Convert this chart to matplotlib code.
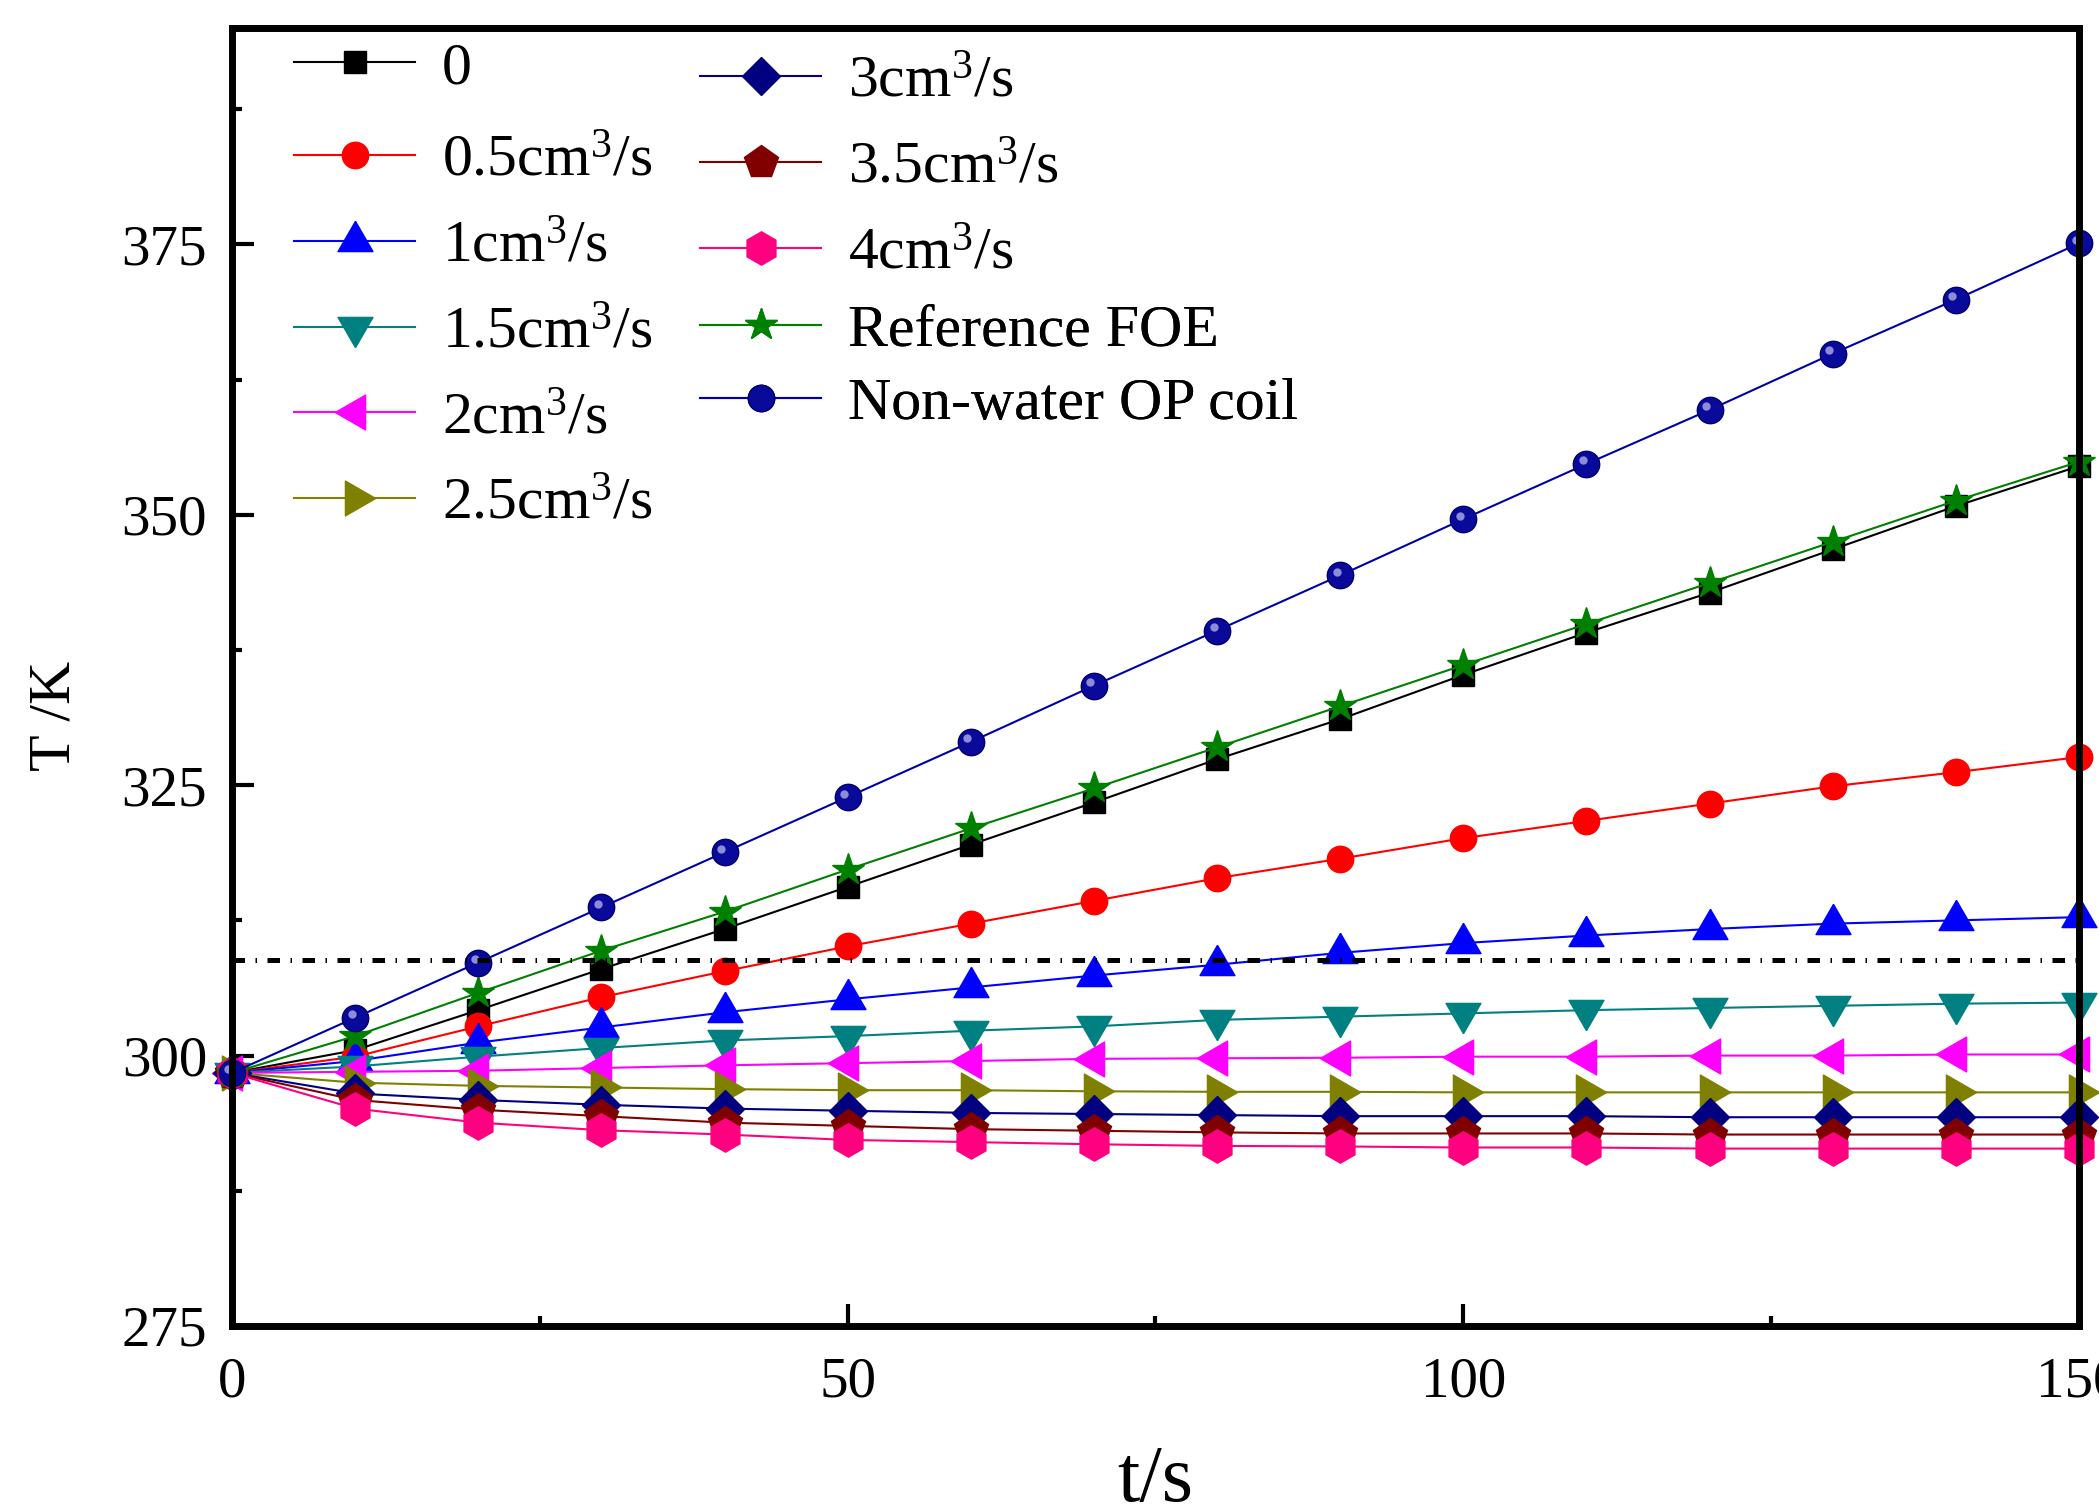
import matplotlib
matplotlib.use("Agg")
import matplotlib.pyplot as plt
import matplotlib.transforms as mtransforms
from matplotlib.ticker import MultipleLocator

plt.rcParams.update({
    "font.family": ["Liberation Serif", "DejaVu Serif"],
    "mathtext.default": "regular",
    "mathtext.fontset": "custom",
    "mathtext.rm": "Liberation Serif",
})

# time axis (s)
t = [0, 10, 20, 30, 40, 50, 60, 70, 80, 90, 100, 110, 120, 130, 140, 150]

# temperature (K) for each water flow rate
T_0 = [298.4, 300.5, 304.2, 308.0, 311.7, 315.6, 319.5, 323.4, 327.4, 331.1, 335.2, 339.1, 342.8, 346.8, 350.8, 354.5]
T_05 = [298.4, 299.9, 302.7, 305.4, 307.8, 310.1, 312.2, 314.3, 316.4, 318.2, 320.1, 321.7, 323.3, 324.9, 326.2, 327.6]
T_1 = [298.4, 299.5, 301.2, 302.6, 304.0, 305.2, 306.3, 307.4, 308.4, 309.5, 310.4, 311.1, 311.7, 312.2, 312.5, 312.8]
T_15 = [298.4, 299.0, 299.9, 300.7, 301.4, 301.8, 302.3, 302.7, 303.3, 303.6, 303.9, 304.2, 304.4, 304.6, 304.8, 304.9]
T_2 = [298.4, 298.5, 298.6, 298.85, 299.1, 299.3, 299.5, 299.7, 299.75, 299.8, 299.9, 299.9, 300.0, 300.0, 300.1, 300.1]
T_25 = [298.4, 297.5, 297.2, 297.05, 296.9, 296.8, 296.8, 296.7, 296.65, 296.65, 296.6, 296.6, 296.6, 296.6, 296.6, 296.6]
T_3 = [298.4, 296.5, 295.9, 295.45, 295.1, 294.9, 294.7, 294.6, 294.5, 294.4, 294.4, 294.4, 294.3, 294.3, 294.3, 294.3]
T_35 = [298.4, 295.9, 295.0, 294.4, 293.8, 293.5, 293.2, 293.05, 292.9, 292.8, 292.8, 292.8, 292.7, 292.7, 292.7, 292.7]
T_4 = [298.4, 295.1, 293.8, 293.1, 292.7, 292.2, 292.0, 291.8, 291.65, 291.6, 291.5, 291.5, 291.4, 291.4, 291.4, 291.4]
T_foe = [298.4, 301.8, 305.8, 309.7, 313.3, 317.2, 321.0, 324.7, 328.5, 332.3, 336.1, 339.9, 343.7, 347.5, 351.3, 354.9]
T_nowater = [298.4, 303.5, 308.6, 313.7, 318.8, 323.9, 329.0, 334.2, 339.3, 344.4, 349.6, 354.7, 359.7, 364.9, 369.9, 375.1]

labels = ["0", "0.5cm$^3$/s", "1cm$^3$/s", "1.5cm$^3$/s", "2cm$^3$/s", "2.5cm$^3$/s",
          "3cm$^3$/s", "3.5cm$^3$/s", "4cm$^3$/s", "Reference FOE", "Non-water OP coil"]

T_LIMIT = 308.8

# equilateral triangles, like Origin's
TRI_UP = [(0, 1), (-0.866, -0.5), (0.866, -0.5), (0, 1)]
TRI_DOWN = [(x, -y) for x, y in TRI_UP]
TRI_LEFT = [(-y, x) for x, y in TRI_UP]
TRI_RIGHT = [(y, x) for x, y in TRI_UP]

styles = [
    dict(color="#000000", marker="s", ms=16.5),
    dict(color="#FF0000", marker="o", ms=19),
    dict(color="#0000FF", marker=TRI_UP, ms=29),
    dict(color="#008080", marker=TRI_DOWN, ms=29),
    dict(color="#FF00FF", marker=TRI_LEFT, ms=29),
    dict(color="#808000", marker=TRI_RIGHT, ms=29),
    dict(color="#000080", marker="D", ms=19),
    dict(color="#800000", marker="p", ms=25),
    dict(color="#FF0080", marker="h", ms=24),
    dict(color="#008000", marker="*", ms=24),
    dict(color="#0000A8", marker="o", ms=19, mfc="#0A0A9A", mec="#000070"),
]

series = [T_0, T_05, T_1, T_15, T_2, T_25, T_3, T_35, T_4, T_foe, T_nowater]

fig = plt.figure(figsize=(20.99, 15.08), dpi=100)
ax = fig.add_axes([0.1105, 0.1207, 0.8800, 0.8607])

lines = []
for y, lab, st in zip(series, labels, styles):
    st = dict(st)
    color = st.pop("color")
    ln, = ax.plot(t, y, color=color, lw=1.5, label=lab, mfc=st.pop("mfc", color),
                  mec=st.pop("mec", color), mew=1, clip_on=False, **st)
    lines.append(ln)

# glossy highlight on the sphere markers
hl = mtransforms.offset_copy(ax.transData, fig=fig, x=-2.5, y=2.5, units="points")
ax.plot(t, T_nowater, ls="none", marker="o", ms=6, mfc="#8C8CD8", mec="none",
        transform=hl, clip_on=False)

ax.axhline(T_LIMIT, color="black", lw=3.6, ls=(0, (2.5, 2.1, 0.3, 2.1)), zorder=5)

ax.set_xlim(0, 150)
ax.set_ylim(275, 395)
ax.xaxis.set_major_locator(MultipleLocator(50))
ax.xaxis.set_minor_locator(MultipleLocator(25))
ax.yaxis.set_major_locator(MultipleLocator(25))
ax.yaxis.set_minor_locator(MultipleLocator(12.5))
ax.tick_params(which="both", direction="in", top=False, right=False, width=3, labelsize=41)
ax.tick_params(axis="y", pad=18)
ax.tick_params(axis="x", pad=22)
ax.tick_params(which="major", length=16)
ax.tick_params(which="minor", length=7)
for sp in ax.spines.values():
    sp.set_linewidth(5)

ax.set_xlabel("t/s", fontsize=58)
ax.xaxis.set_label_coords(0.5, -0.092)
ax.set_ylabel("T /K", fontsize=43)
ax.yaxis.set_label_coords(-0.0807, 0.47)

# legend laid out in blocks, like the original
leg_kw = dict(loc="upper left", frameon=False, fontsize=43, handlelength=2.03,
              handletextpad=0.45, borderpad=0, borderaxespad=0, numpoints=1)
blocks = [
    (lines[0:1], (0.0336, 0.9896), 0.52),
    (lines[1:6], (0.0336, 0.9184), 0.52),
    (lines[6:9], (0.2534, 0.9793), 0.52),
    (lines[9:11], (0.2534, 0.7874), 0.31),
]
for handles, anchor, spacing in blocks:
    leg = ax.legend(handles=handles, bbox_to_anchor=anchor, labelspacing=spacing, **leg_kw)
    ax.add_artist(leg)

fig.savefig("out.png", dpi=100)
